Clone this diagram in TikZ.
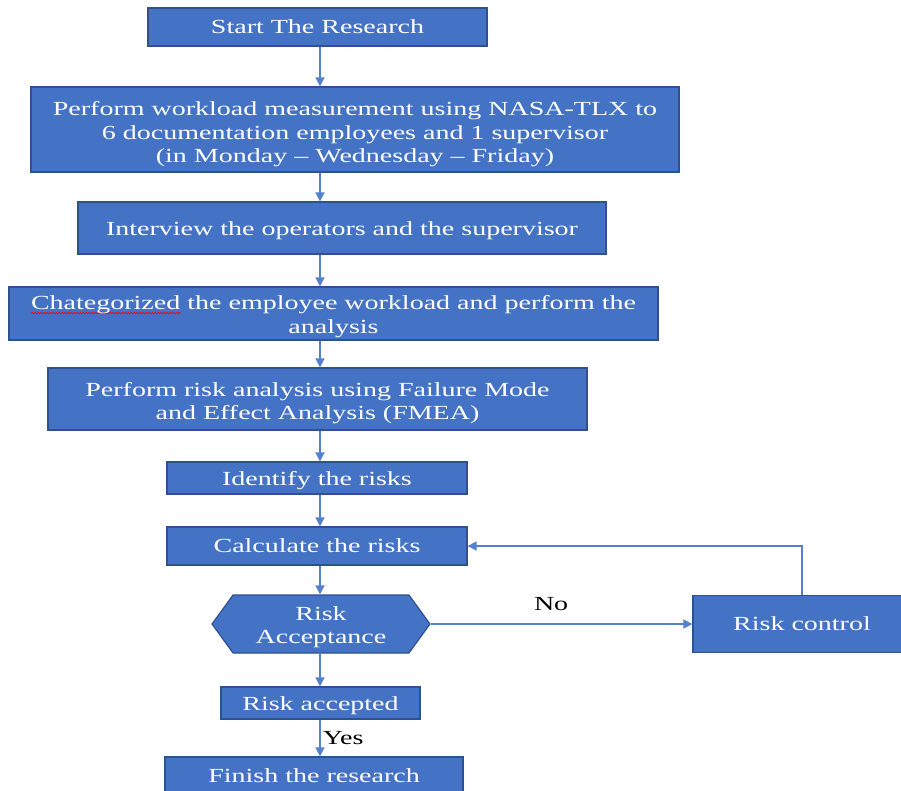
\documentclass[tikz,border=0pt]{standalone}
\usepackage{fontspec}
\setmainfont{Liberation Serif}[FakeStretch=1.4]
\usepackage{tikz}
\usetikzlibrary{arrows.meta,positioning,calc,shapes.symbols,decorations.pathmorphing}
\definecolor{boxblue}{RGB}{68,114,196}
\definecolor{boxedge}{RGB}{47,82,143}
\definecolor{arblue}{RGB}{84,128,208}
\newsavebox\wavebox
\newcommand\redwave[1]{\sbox\wavebox{#1}\rlap{\tikz[baseline=0pt]\draw[red,line width=0.6pt,decorate,decoration={snake,amplitude=0.8pt,segment length=3pt}] (0pt,-3.5pt) -- (\wd\wavebox,-3.5pt);}#1}
\newcommand\lift[1]{\rule{0pt}{#1}}

\begin{document}
\begin{tikzpicture}[
  x=1pt,y=-1pt,
  s/.style={rectangle,draw=boxedge,fill=boxblue,line width=1.2pt,text=white,align=center,inner sep=2pt,font=\fontsize{20}{23.5}\selectfont},
  dn/.style={execute at begin node={\rule{0pt}{19.5pt}}},
  hx/.style={s,shape=signal,signal to=west and east,signal pointer angle=108},
  ar/.style={-{Triangle[length=9pt,width=9pt]},draw=arblue,line width=1.5pt},
  lb/.style={font=\fontsize{20}{23.5}\selectfont,text=black}
]
\clip (0,0) rectangle (901,791);
\coordinate (spine) at (320,0);
\node[s,minimum width=339pt,minimum height=38pt] (start) at (317.5,27) {Start The Research};
\node[s,minimum width=648pt,minimum height=85pt] (nasa) at (355,129.5) {\lift{24pt}Perform workload measurement using NASA-TLX to\\6 documentation employees and 1 supervisor\\(in Monday -- Wednesday -- Friday)};
\node[s,dn,minimum width=528pt,minimum height=52pt] (intv) at (342,228) {Interview the operators and the supervisor};
\node[s,minimum width=649pt,minimum height=53pt] (categ) at (333.5,313.5) {\lift{20pt}\redwave{Chategorized} the employee workload and perform the\\analysis};
\node[s,minimum width=539pt,minimum height=62pt] (fmea) at (317.5,399) {\lift{22pt}Perform risk analysis using Failure Mode\\and Effect Analysis (FMEA)};
\node[s,dn,minimum width=300pt,minimum height=32pt] (ident) at (317,478) {Identify the risks};
\node[s,minimum width=300pt,minimum height=38pt] (calc) at (317,546) {Calculate the risks};
\node[hx,minimum width=218pt,minimum height=58pt] (accept) at (321,624) {\lift{20.5pt}Risk\\Acceptance};
\node[s,dn,minimum width=199pt,minimum height=32pt] (acc) at (320.5,703) {Risk accepted};
\node[s,minimum width=298pt,minimum height=38pt] (finish) at (314,776) {Finish the research};
\node[s,minimum width=218pt,minimum height=57pt] (ctrl) at (802,624) {Risk control};
% main flow
\draw[ar] (start.south -| spine) -- (nasa.north -| spine);
\draw[ar] (nasa.south -| spine) -- (intv.north -| spine);
\draw[ar] (intv.south -| spine) -- (categ.north -| spine);
\draw[ar] (categ.south -| spine) -- (fmea.north -| spine);
\draw[ar] (fmea.south -| spine) -- (ident.north -| spine);
\draw[ar] (ident.south -| spine) -- (calc.north -| spine);
\draw[ar] (calc.south -| spine) -- (accept.north -| spine);
\draw[ar] (accept.south -| spine) -- (acc.north -| spine);
\draw[ar] (acc.south -| spine) -- node[lb,right,inner sep=2pt]{Yes} (finish.north -| spine);
% loop back
\draw[ar] (accept.east) -- node[lb,above=9pt,pos=0.46]{No} (ctrl.west);
\draw[ar] (ctrl.north) |- (calc.east);
\end{tikzpicture}
\end{document}
